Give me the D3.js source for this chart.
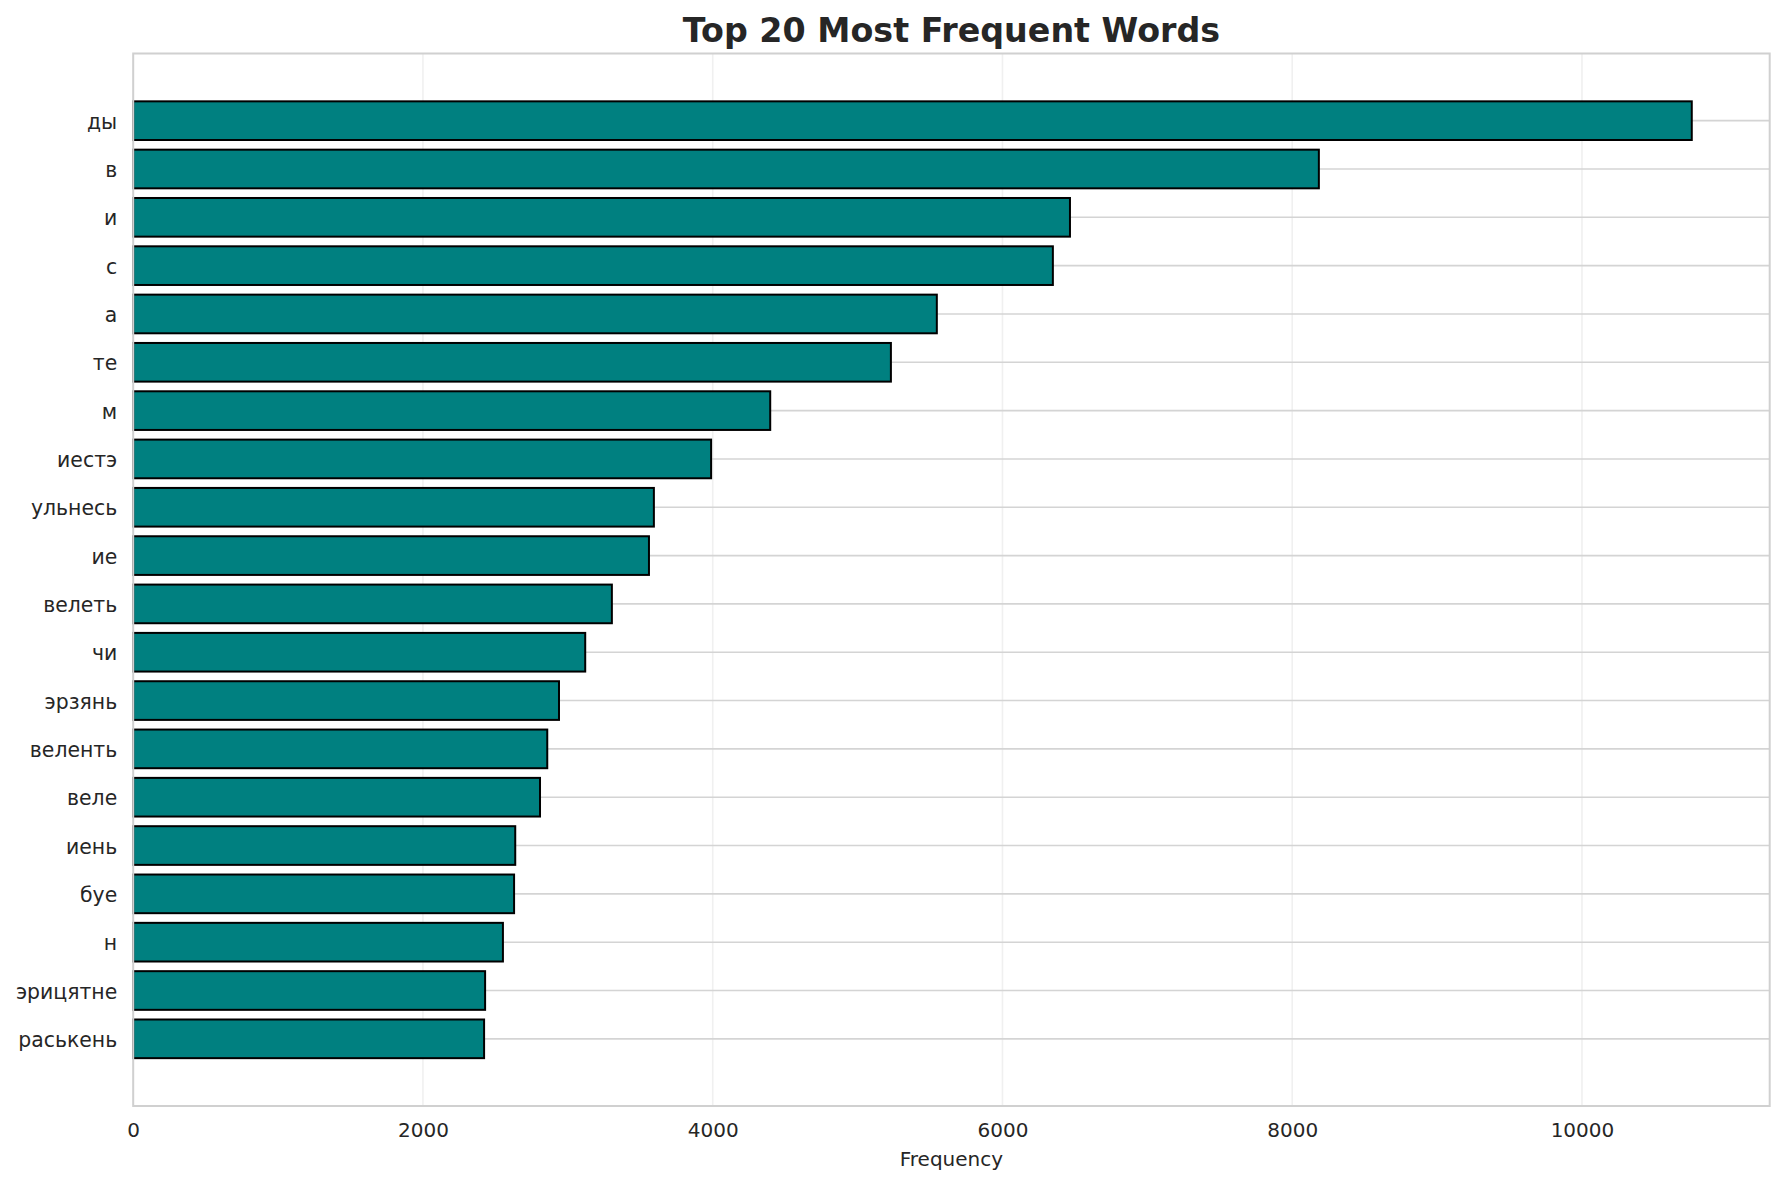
<!DOCTYPE html>
<html>
<head>
<meta charset="utf-8">
<script src="https://cdn.jsdelivr.net/npm/d3@7"></script>
<style>
  body { margin: 0; background: #fff; }
  text { font-family: "DejaVu Sans", sans-serif; fill: #262626; }
</style>
</head>
<body>
<div id="chart"></div>
<script>
const words = ["ды", "в", "и", "с", "а", "те", "м", "иестэ", "ульнесь", "ие",
    "велеть", "чи", "эрзянь", "веленть", "веле", "иень", "буе", "н", "эрицятне", "раськень"];
const counts = [10758, 8184, 6466, 6348, 5547, 5230, 4397, 3989, 3594, 3560,
    3304, 3120, 2939, 2858, 2808, 2637, 2629, 2552, 2429, 2422];
const xTicks = [0, 2000, 4000, 6000, 8000, 10000];

const W = 1785, H = 1185;
const margin = {top: 53.5, right: 15.3, bottom: 79, left: 133.2};
const width = W - margin.left - margin.right;
const height = H - margin.top - margin.bottom;

const svg = d3.select("#chart")
    .append("svg")
    .attr("width", W)
    .attr("height", H);

const g = svg.append("g")
    .attr("transform", `translate(${margin.left},${margin.top})`);

const xScale = d3.scaleLinear()
    .domain([0, d3.max(counts) * 1.05])
    .range([0, width]);

const yScale = d3.scaleBand()
    .domain(words)
    .range([0, height])
    .paddingInner(0.2)
    .paddingOuter(0.99);

// vertical grid (faint)
g.append("g")
    .selectAll("line")
    .data(xTicks)
    .join("line")
    .attr("x1", d => xScale(d)).attr("x2", d => xScale(d))
    .attr("y1", 0).attr("y2", height)
    .attr("stroke", "#f0f0f0")
    .attr("stroke-width", 1.6);

// horizontal grid at each category
g.append("g")
    .selectAll("line")
    .data(words)
    .join("line")
    .attr("x1", 0).attr("x2", width)
    .attr("y1", d => yScale(d) + yScale.bandwidth() / 2)
    .attr("y2", d => yScale(d) + yScale.bandwidth() / 2)
    .attr("stroke", "#d4d4d4")
    .attr("stroke-width", 1.6);

// bars
g.append("g")
    .selectAll("rect")
    .data(words)
    .join("rect")
    .attr("x", 0)
    .attr("y", d => yScale(d))
    .attr("width", (d, i) => xScale(counts[i]))
    .attr("height", yScale.bandwidth())
    .attr("fill", "#008080")
    .attr("stroke", "#000")
    .attr("stroke-width", 2);

// frame
g.append("rect")
    .attr("x", 0).attr("y", 0)
    .attr("width", width).attr("height", height)
    .attr("fill", "none")
    .attr("stroke", "#d0d0d0")
    .attr("stroke-width", 2);

// x axis
const xAxis = g.append("g")
    .attr("transform", `translate(0,${height})`)
    .call(d3.axisBottom(xScale).tickValues(xTicks).tickSize(0).tickPadding(17).tickFormat(d3.format("d")));
xAxis.select(".domain").remove();
xAxis.selectAll("text").style("font-size", "20px").attr("fill", "#262626");

// y axis
const yAxis = g.append("g")
    .call(d3.axisLeft(yScale).tickSize(0).tickPadding(16));
yAxis.select(".domain").remove();
yAxis.selectAll("text")
    .style("font-size", "20.4px")
    .attr("fill", "#262626")
    .attr("dy", "0.4em");

// labels
svg.append("text")
    .attr("x", margin.left + width / 2)
    .attr("y", 1165.5)
    .attr("text-anchor", "middle")
    .style("font-size", "20px")
    .text("Frequency");

svg.append("text")
    .attr("x", margin.left + width / 2)
    .attr("y", 42)
    .attr("text-anchor", "middle")
    .style("font-size", "33.3px")
    .style("font-weight", "bold")
    .text("Top 20 Most Frequent Words");
</script>
</body>
</html>
